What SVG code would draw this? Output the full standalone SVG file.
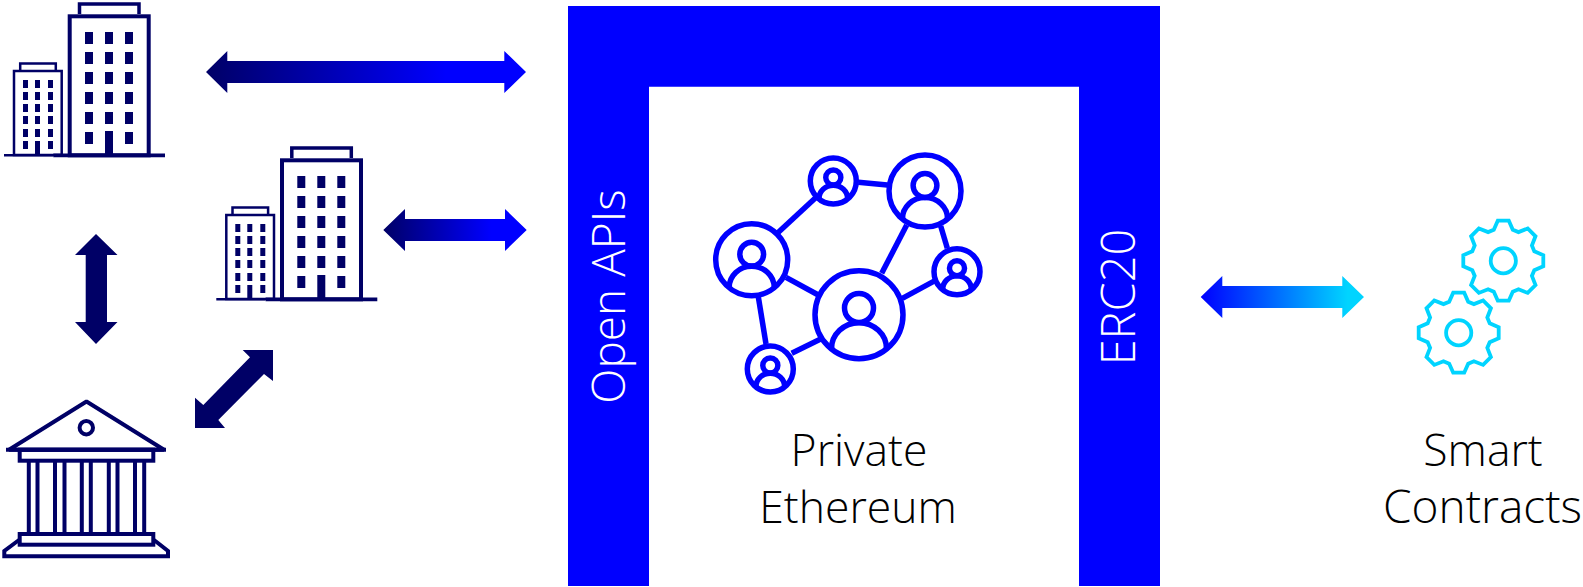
<svg xmlns="http://www.w3.org/2000/svg" xmlns:xlink="http://www.w3.org/1999/xlink" width="1583" height="587" viewBox="0 0 1583 587">
<style>
.navy-s{fill:none;stroke:#000066}
.navy-f{fill:#000066}
.net{fill:#fff;stroke:#0000ff;stroke-width:5.500}
.gear{fill:none;stroke:#00d4ff;stroke-width:3.800}
.lbl{font-family:"Open Sans","Noto Sans",sans-serif;font-weight:300;font-size:44.500px;fill:#000;text-anchor:middle}
.wht{fill:#fff;font-size:46px}
</style>
<defs>
<linearGradient id="g1" gradientUnits="userSpaceOnUse" x1="206" y1="0" x2="526" y2="0"><stop offset="0" stop-color="#000066"/><stop offset="0.75" stop-color="#0000ff"/></linearGradient>
<linearGradient id="g2" gradientUnits="userSpaceOnUse" x1="383" y1="0" x2="527" y2="0"><stop offset="0" stop-color="#000066"/><stop offset="0.75" stop-color="#0000ff"/></linearGradient>
<linearGradient id="g3" gradientUnits="userSpaceOnUse" x1="1201" y1="0" x2="1364" y2="0"><stop offset="0" stop-color="#0000ff"/><stop offset="0.9" stop-color="#00d4ff"/></linearGradient>
<g id="person" fill="none" stroke="#0000ff">
<circle cx="0" cy="-6.7" r="14.5"/>
<path d="M-27.5 34A27.5 26 0 0 1 27.5 34"/>
</g>
<g id="towers">
<rect x="69.7" y="16.3" width="79" height="139" class="navy-s" stroke-width="4"/>
<path d="M79.5 14V4H139V14" class="navy-s" stroke-width="3.5"/>
<rect x="14" y="71" width="47.7" height="84" class="navy-s" stroke-width="2.5"/>
<path d="M20.2 70V63.5H55.8V70" class="navy-s" stroke-width="2.5"/>
<path class="navy-f" d="M85 32h8v12h-8zM105 32h8v12h-8zM125 32h8v12h-8zM85 52h8v12h-8zM105 52h8v12h-8zM125 52h8v12h-8zM85 72h8v12h-8zM105 72h8v12h-8zM125 72h8v12h-8zM85 92h8v12h-8zM105 92h8v12h-8zM125 92h8v12h-8zM85 112h8v12h-8zM105 112h8v12h-8zM125 112h8v12h-8zM85 132h8v12h-8zM125 132h8v12h-8zM105 131h8v24h-8z"/>
<path class="navy-f" d="M23 80h5v8h-5zM35 80h5v8h-5zM48 80h5v8h-5zM23 92h5v8h-5zM35 92h5v8h-5zM48 92h5v8h-5zM23 104h5v8h-5zM35 104h5v8h-5zM48 104h5v8h-5zM23 116h5v8h-5zM35 116h5v8h-5zM48 116h5v8h-5zM23 129h5v8h-5zM35 129h5v8h-5zM48 129h5v8h-5zM23 141h5v8h-5zM48 141h5v8h-5zM35 141h5v14h-5z"/>
<path class="navy-s" stroke-width="2.5" d="M4 155.3H53"/>
<path class="navy-s" stroke-width="3.6" d="M53.3 155.4H165"/>
</g>
</defs>
<g id="frame"><path fill="#0000ff" d="M568 6H1160V586H1079V86.700H649V586H568Z"/>
<text class="lbl wht" transform="translate(625 296.500) rotate(-90)">Open APIs</text>
<text class="lbl wht" style="font-size:47px" transform="translate(1135 297) rotate(-90)">ERC20</text></g>
<g id="connectors">
<path fill="url(#g1)" d="M206 72L227.300 51V61H504.300V51L526 72L504.300 93V83H227.300V93Z"/>
<path fill="url(#g2)" d="M383.300 230L405 209V219H505V209L526.700 230L505 251V241H405V251Z"/>
<path fill="url(#g3)" d="M1200.700 297L1222.300 276V286H1342.300V276L1364 297L1342.300 318V308H1222.300V318Z"/>
<path class="navy-f" d="M96 234L117.500 255H107V322H117.500L96 344L75 322H85.700V255H75Z"/>
<path class="navy-f" d="M273 350H242.700L250 357.300L203.300 405L195 397.700V428H225L218.300 420L264 374L273 381Z"/>
<g stroke="#0000ff" stroke-width="5.500" fill="none">
<path d="M777.300 233.300L816.700 196.700"/>
<path d="M858.300 182.300L887.300 185"/>
<path d="M906.700 225L881.700 273.300"/>
<path d="M940.700 226L947.300 248.300"/>
<path d="M786 277.300L818.300 295"/>
<path d="M758.300 296.700L766 344"/>
<path d="M791.700 353.300L820.700 339"/>
<path d="M902.300 298.300L935 280.700"/>
</g>
</g>
<g id="tower-a"><use href="#towers" xlink:href="#towers"/></g>
<g id="tower-b"><use href="#towers" xlink:href="#towers" transform="translate(212.300 144)"/></g>
<g id="bank">
<path class="navy-s" stroke-width="4" stroke-linejoin="bevel" d="M86.500 401.500L9 449.700H164Z"/>
<path class="navy-s" stroke-width="4" d="M6 449.700H166"/>
<circle cx="86.300" cy="427.700" r="6.700" class="navy-s" stroke-width="4"/>
<rect x="19.700" y="449.700" width="133.600" height="11" class="navy-s" stroke-width="4"/>
<path class="navy-s" stroke-width="4" d="M28.800 462V533M37.500 462V533M55 462V533M64.500 462V533M81.800 462V533M90.800 462V533M108.800 462V533M117.500 462V533M135 462V533M144.200 462V533"/>
<rect x="19.700" y="534" width="133.600" height="10.700" class="navy-s" stroke-width="4"/>
<path class="navy-s" stroke-width="4" d="M19 540L4.300 551V556.300H168V551L154 540"/>
</g>
<g id="network">
<g id="node-big"><circle class="net" cx="859" cy="314.700" r="44"/><use href="#person" xlink:href="#person" transform="translate(859 314.700)" stroke-width="5.500"/></g>
<g id="node-left"><circle class="net" cx="751.700" cy="259.700" r="36"/><use href="#person" xlink:href="#person" transform="translate(751.700 259.700) scale(.82)" stroke-width="6.700"/></g>
<g id="node-tr"><circle class="net" cx="925" cy="191" r="36"/><use href="#person" xlink:href="#person" transform="translate(925 191) scale(.82)" stroke-width="6.700"/></g>
<g id="node-top"><circle class="net" cx="833.300" cy="181" r="23"/><use href="#person" xlink:href="#person" transform="translate(833.300 181) scale(.52)" stroke-width="10.500"/></g>
<g id="node-right"><circle class="net" cx="957" cy="271.700" r="23"/><use href="#person" xlink:href="#person" transform="translate(957 271.700) scale(.52)" stroke-width="10.500"/></g>
<g id="node-bottom"><circle class="net" cx="770.300" cy="369" r="23"/><use href="#person" xlink:href="#person" transform="translate(770.300 369) scale(.52)" stroke-width="10.500"/></g>
</g>
<g id="gears">
<g id="gear-a" transform="translate(1503.300 260.700)"><path id="gearshape" class="gear" d="M-9.500 -31L-5.500 -40L5.500 -40L9.500 -31L15.200 -28.600L24.400 -32.200L32.200 -24.400L28.600 -15.200L31 -9.500L40 -5.500L40 5.500L31 9.500L28.600 15.200L32.200 24.400L24.400 32.200L15.200 28.600L9.500 31L5.500 40L-5.500 40L-9.500 31L-15.200 28.600L-24.400 32.200L-32.200 24.400L-28.600 15.200L-31 9.500L-40 5.500L-40 -5.500L-31 -9.500L-28.600 -15.200L-32.200 -24.400L-24.400 -32.200L-15.200 -28.600Z"/><circle class="gear" r="12.600"/></g>
<g id="gear-b" transform="translate(1458.700 332.700)"><use href="#gearshape" xlink:href="#gearshape"/><circle class="gear" r="12.600"/></g>
</g>
<g id="label-private"><text class="lbl" x="859" y="466">Private</text><text class="lbl" x="858" y="523">Ethereum</text></g>
<g id="label-smart"><text class="lbl" x="1483" y="466">Smart</text><text class="lbl" style="font-size:46px" x="1482.500" y="523">Contracts</text></g>
</svg>
